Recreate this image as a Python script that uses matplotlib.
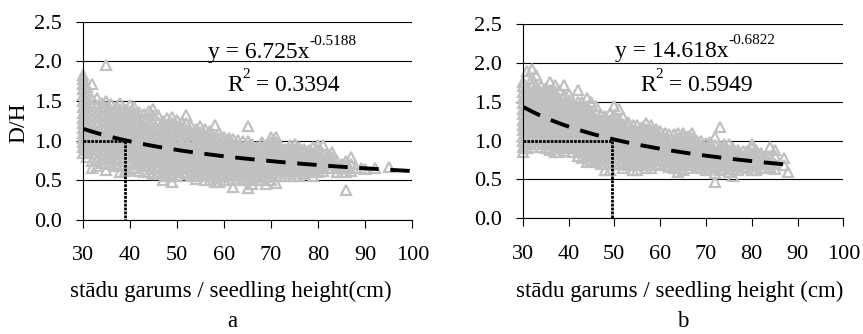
import matplotlib
matplotlib.use("Agg")
import numpy as np
import matplotlib.pyplot as plt

plt.rcParams['font.family'] = ['Liberation Serif', 'DejaVu Serif']

# panel a: seedling height (cm) -> D/H values
heights_a = [30, 31, 32, 33, 34, 35, 36, 37, 38, 39, 40, 41, 42, 43, 44, 45, 46, 47, 48, 49,
             50, 51, 52, 53, 54, 55, 56, 57, 58, 59, 60, 61, 62, 63, 64, 65, 66, 67, 68, 69,
             70, 71, 72, 73, 74, 75, 76, 77, 78, 79, 80, 81, 82, 83, 84, 85, 86, 87, 88, 89,
             90, 92, 95]
dh_a = [
    [0.85, 0.92, 0.98, 1.04, 1.1, 1.16, 1.22, 1.28, 1.35, 1.42, 1.5, 1.58, 1.65, 1.72, 1.78, 1.83],
    [0.8, 0.88, 0.95, 1.02, 1.08, 1.15, 1.22, 1.3, 1.38, 1.46, 1.55, 1.62, 1.68],
    [0.66, 0.75, 0.84, 0.92, 1.0, 1.07, 1.14, 1.21, 1.28, 1.36, 1.44, 1.52, 1.72],
    [0.68, 0.76, 0.84, 0.91, 0.98, 1.05, 1.12, 1.2, 1.28, 1.36, 1.45, 1.54],
    [0.72, 0.8, 0.88, 0.95, 1.02, 1.09, 1.16, 1.24, 1.32, 1.4, 1.48],
    [0.63, 0.72, 0.8, 0.88, 0.95, 1.02, 1.1, 1.18, 1.26, 1.34, 1.42, 1.5, 1.95],
    [0.7, 0.78, 0.86, 0.93, 1.0, 1.07, 1.14, 1.22, 1.3, 1.38, 1.46],
    [0.68, 0.76, 0.84, 0.91, 0.98, 1.05, 1.12, 1.2, 1.28, 1.36, 1.43],
    [0.6, 0.7, 0.79, 0.87, 0.94, 1.01, 1.08, 1.16, 1.24, 1.32, 1.4, 1.48],
    [0.62, 0.71, 0.8, 0.88, 0.95, 1.02, 1.09, 1.16, 1.24, 1.32, 1.4],
    [0.63, 0.72, 0.8, 0.87, 0.94, 1.01, 1.08, 1.15, 1.22, 1.3, 1.38, 1.45],
    [0.65, 0.73, 0.8, 0.87, 0.94, 1.0, 1.07, 1.14, 1.21, 1.28, 1.35, 1.42],
    [0.62, 0.7, 0.78, 0.85, 0.92, 0.99, 1.06, 1.13, 1.2, 1.28, 1.36],
    [0.6, 0.68, 0.76, 0.83, 0.9, 0.97, 1.04, 1.11, 1.18, 1.26, 1.34],
    [0.6, 0.68, 0.75, 0.82, 0.89, 0.96, 1.03, 1.1, 1.17, 1.25, 1.38],
    [0.58, 0.66, 0.74, 0.81, 0.88, 0.95, 1.02, 1.09, 1.16, 1.24, 1.32, 1.4],
    [0.58, 0.66, 0.73, 0.8, 0.87, 0.94, 1.01, 1.08, 1.15, 1.23, 1.32],
    [0.5, 0.6, 0.68, 0.75, 0.82, 0.89, 0.96, 1.03, 1.1, 1.18, 1.25],
    [0.55, 0.63, 0.7, 0.77, 0.84, 0.91, 0.98, 1.05, 1.12, 1.2, 1.28],
    [0.48, 0.58, 0.66, 0.73, 0.8, 0.87, 0.94, 1.01, 1.08, 1.15, 1.22, 1.3],
    [0.55, 0.63, 0.7, 0.77, 0.84, 0.9, 0.97, 1.04, 1.11, 1.18, 1.26],
    [0.6, 0.67, 0.74, 0.81, 0.88, 0.95, 1.02, 1.09, 1.16, 1.24],
    [0.58, 0.65, 0.72, 0.79, 0.86, 0.93, 1.0, 1.07, 1.14, 1.22, 1.33],
    [0.55, 0.62, 0.69, 0.76, 0.83, 0.9, 0.97, 1.04, 1.11, 1.19],
    [0.52, 0.6, 0.67, 0.74, 0.81, 0.88, 0.95, 1.02, 1.09, 1.15],
    [0.55, 0.62, 0.69, 0.76, 0.83, 0.9, 0.97, 1.04, 1.11, 1.18],
    [0.5, 0.58, 0.65, 0.72, 0.79, 0.86, 0.93, 1.0, 1.07, 1.15],
    [0.5, 0.57, 0.64, 0.71, 0.78, 0.85, 0.92, 0.99, 1.06, 1.12],
    [0.48, 0.56, 0.63, 0.7, 0.77, 0.84, 0.91, 0.98, 1.05, 1.2],
    [0.48, 0.55, 0.62, 0.69, 0.76, 0.83, 0.9, 0.97, 1.04, 1.1],
    [0.5, 0.57, 0.64, 0.71, 0.78, 0.85, 0.92, 0.99, 1.05],
    [0.5, 0.57, 0.64, 0.71, 0.78, 0.85, 0.92, 0.98, 1.04],
    [0.42, 0.52, 0.6, 0.67, 0.74, 0.81, 0.88, 0.95, 1.02],
    [0.52, 0.59, 0.66, 0.73, 0.8, 0.87, 0.94, 1.01],
    [0.5, 0.57, 0.64, 0.71, 0.78, 0.85, 0.92, 0.99],
    [0.4, 0.5, 0.58, 0.65, 0.72, 0.79, 0.86, 0.93, 1.0, 1.18],
    [0.45, 0.53, 0.6, 0.67, 0.74, 0.81, 0.88, 0.96],
    [0.5, 0.57, 0.64, 0.71, 0.78, 0.85, 0.92],
    [0.5, 0.57, 0.64, 0.71, 0.78, 0.85, 0.92, 0.98],
    [0.45, 0.54, 0.61, 0.68, 0.75, 0.82, 0.89, 0.95],
    [0.5, 0.57, 0.64, 0.71, 0.78, 0.85, 0.92, 0.98, 1.05],
    [0.47, 0.56, 0.63, 0.7, 0.77, 0.84, 0.91, 0.98, 1.05],
    [0.55, 0.62, 0.69, 0.76, 0.83, 0.9, 0.95],
    [0.55, 0.62, 0.69, 0.76, 0.83, 0.9],
    [0.55, 0.62, 0.69, 0.76, 0.83, 0.9, 0.95],
    [0.55, 0.62, 0.69, 0.76, 0.83, 0.9, 0.96],
    [0.56, 0.63, 0.7, 0.77, 0.84, 0.92],
    [0.58, 0.65, 0.72, 0.79, 0.86, 0.9],
    [0.6, 0.67, 0.74, 0.81, 0.88],
    [0.55, 0.63, 0.7, 0.77, 0.84, 0.92],
    [0.6, 0.67, 0.74, 0.81, 0.88, 0.95],
    [0.62, 0.69, 0.76, 0.83, 0.95],
    [0.65, 0.72, 0.79, 0.82],
    [0.66, 0.73, 0.8, 0.86],
    [0.6, 0.67, 0.74],
    [0.6, 0.66, 0.7],
    [0.38, 0.6, 0.68, 0.75],
    [0.62, 0.7, 0.8],
    [0.65], [0.65], [0.64], [0.65], [0.67],
]

# panel b
heights_b = [30, 31, 32, 33, 34, 35, 36, 37, 38, 39, 40, 41, 42, 43, 44, 45, 46, 47, 48, 49,
             50, 51, 52, 53, 54, 55, 56, 57, 58, 59, 60, 61, 62, 63, 64, 65, 66, 67, 68, 69,
             70, 71, 72, 73, 74, 75, 76, 77, 78, 79, 80, 81, 82, 83, 84, 85, 87, 88]
dh_b = [
    [0.85, 0.92, 0.99, 1.06, 1.13, 1.2, 1.27, 1.34, 1.41, 1.48, 1.55, 1.62, 1.7, 1.76],
    [0.9, 0.97, 1.04, 1.11, 1.18, 1.25, 1.32, 1.39, 1.46, 1.53, 1.6, 1.68, 1.9],
    [0.92, 0.99, 1.06, 1.13, 1.2, 1.27, 1.34, 1.41, 1.48, 1.55, 1.62, 1.7, 1.8, 1.92],
    [0.95, 1.02, 1.09, 1.16, 1.23, 1.3, 1.37, 1.44, 1.51, 1.58, 1.65, 1.72, 1.85],
    [0.92, 0.99, 1.06, 1.13, 1.2, 1.27, 1.34, 1.41, 1.48, 1.55, 1.62, 1.7],
    [0.9, 0.97, 1.04, 1.11, 1.18, 1.25, 1.32, 1.39, 1.46, 1.53, 1.6, 1.68],
    [0.88, 0.95, 1.02, 1.09, 1.16, 1.23, 1.3, 1.37, 1.44, 1.51, 1.58, 1.65, 1.75],
    [0.85, 0.92, 0.99, 1.06, 1.13, 1.2, 1.27, 1.34, 1.41, 1.48, 1.55, 1.62, 1.72],
    [0.85, 0.92, 0.99, 1.06, 1.13, 1.2, 1.27, 1.34, 1.41, 1.48, 1.55, 1.65],
    [0.86, 0.93, 1.0, 1.07, 1.14, 1.21, 1.28, 1.35, 1.42, 1.5, 1.58, 1.72],
    [0.9, 0.97, 1.04, 1.11, 1.18, 1.25, 1.32, 1.39, 1.46, 1.52, 1.6],
    [0.85, 0.92, 0.99, 1.06, 1.13, 1.2, 1.27, 1.34, 1.41, 1.48],
    [0.8, 0.87, 0.94, 1.01, 1.08, 1.15, 1.22, 1.29, 1.36, 1.43, 1.5, 1.65],
    [0.78, 0.85, 0.92, 0.99, 1.06, 1.13, 1.2, 1.27, 1.34, 1.41, 1.5],
    [0.72, 0.8, 0.87, 0.94, 1.01, 1.08, 1.15, 1.22, 1.29, 1.36, 1.45, 1.55],
    [0.75, 0.82, 0.89, 0.96, 1.03, 1.1, 1.17, 1.24, 1.31, 1.38, 1.5],
    [0.72, 0.79, 0.86, 0.93, 1.0, 1.07, 1.14, 1.21, 1.28, 1.35, 1.45],
    [0.7, 0.77, 0.84, 0.91, 0.98, 1.05, 1.12, 1.19, 1.26, 1.33],
    [0.62, 0.7, 0.77, 0.84, 0.91, 0.98, 1.05, 1.12, 1.19, 1.26, 1.32],
    [0.62, 0.7, 0.77, 0.84, 0.91, 0.98, 1.05, 1.12, 1.19, 1.26, 1.35],
    [0.7, 0.77, 0.84, 0.91, 0.98, 1.05, 1.12, 1.19, 1.26, 1.33, 1.45],
    [0.7, 0.77, 0.84, 0.91, 0.98, 1.05, 1.12, 1.19, 1.26, 1.4],
    [0.65, 0.72, 0.79, 0.86, 0.93, 1.0, 1.07, 1.14, 1.21, 1.3],
    [0.68, 0.75, 0.82, 0.89, 0.96, 1.03, 1.1, 1.17, 1.24],
    [0.62, 0.7, 0.77, 0.84, 0.91, 0.98, 1.05, 1.12, 1.2],
    [0.62, 0.7, 0.77, 0.84, 0.91, 0.98, 1.05, 1.12, 1.2],
    [0.68, 0.75, 0.82, 0.89, 0.96, 1.03, 1.1, 1.18],
    [0.65, 0.72, 0.79, 0.86, 0.93, 1.0, 1.07, 1.15, 1.22],
    [0.65, 0.72, 0.79, 0.86, 0.93, 1.0, 1.07, 1.14, 1.2],
    [0.68, 0.75, 0.82, 0.89, 0.96, 1.03, 1.1, 1.15],
    [0.7, 0.77, 0.84, 0.91, 0.98, 1.05, 1.12],
    [0.68, 0.75, 0.82, 0.89, 0.96, 1.03, 1.1],
    [0.66, 0.73, 0.8, 0.87, 0.94, 1.01, 1.08],
    [0.65, 0.72, 0.79, 0.86, 0.93, 1.0, 1.08],
    [0.6, 0.68, 0.75, 0.82, 0.89, 0.96, 1.03, 1.1],
    [0.62, 0.69, 0.76, 0.83, 0.9, 0.97, 1.04, 1.1],
    [0.65, 0.72, 0.79, 0.86, 0.93, 1.0, 1.06],
    [0.68, 0.75, 0.82, 0.89, 0.96, 1.03, 1.1],
    [0.66, 0.73, 0.8, 0.87, 0.94, 1.0],
    [0.65, 0.72, 0.79, 0.86, 0.93, 0.99],
    [0.62, 0.69, 0.76, 0.83, 0.9, 0.97],
    [0.65, 0.72, 0.79, 0.86, 0.93, 0.98],
    [0.47, 0.58, 0.66, 0.73, 0.8, 0.87, 0.94, 1.05],
    [0.62, 0.69, 0.76, 0.83, 0.9, 1.17],
    [0.63, 0.7, 0.77, 0.84, 0.91, 0.96],
    [0.6, 0.67, 0.74, 0.81, 0.88, 0.95],
    [0.55, 0.63, 0.7, 0.77, 0.84, 0.9],
    [0.62, 0.69, 0.76, 0.83, 0.88],
    [0.66, 0.73, 0.8, 0.86],
    [0.65, 0.72, 0.79, 0.86],
    [0.62, 0.69, 0.76, 0.83, 0.9, 0.96],
    [0.62, 0.69, 0.76, 0.83, 0.88],
    [0.65, 0.72, 0.79, 0.84],
    [0.65, 0.72, 0.79],
    [0.66, 0.73, 0.8, 0.92],
    [0.63, 0.7, 0.8, 0.88],
    [0.68, 0.77],
    [0.6],
]

# fitted power trends (coefficients as printed on the chart)
fit_a = (6.725, -0.5188)
fit_b = (14.618, -0.6822)
trend_end_a = 100
trend_end_b = 88
# height where D/H = 1 (dotted guide)
cross_a = 39
cross_b = 49.5

eq_a = ['y = 6.725x', '-0.5188']
r2_a = ['R', '2', ' = 0.3394']
eq_b = ['y = 14.618x', '-0.6822']
r2_b = ['R', '2', ' = 0.5949']
xlabel_a = 'stādu garums / seedling height(cm)'
xlabel_b = 'stādu garums / seedling height (cm)'

W, H = 863, 334
fig = plt.figure(figsize=(W / 100, H / 100), dpi=100)


def px(x, y):
    return x / W, 1 - y / H


def panel(rect, heights, dh, fit, trend_end, cross):
    ax = fig.add_axes(rect)
    xs = [h for h, vals in zip(heights, dh) for _ in vals]
    ys = [v for vals in dh for v in vals]
    ax.plot(xs, ys, linestyle='none', marker='^', markersize=7,
            markerfacecolor='none', markeredgecolor='#c0c0c0', markeredgewidth=1.6,
            zorder=2, clip_on=False)
    xt = np.linspace(30, trend_end, 200)
    ax.plot(xt, fit[0] * xt ** fit[1], color='black', lw=2.8,
            dashes=(5, 3), zorder=4)
    ax.plot([30, cross], [1, 1], color='black', lw=2, linestyle=(0, (1, 0.4)), zorder=5)
    ax.plot([cross, cross], [1, 0], color='black', lw=2, linestyle=(0, (1, 0.4)), zorder=5)
    ax.set_xlim(30, 100)
    ax.set_ylim(0, 2.5)
    ax.set_xticks(np.arange(30, 101, 10))
    ax.set_yticks(np.arange(0, 2.51, 0.5))
    ax.set_yticklabels(['%.1f' % v for v in np.arange(0, 2.51, 0.5)])
    ax.yaxis.grid(True, color='black', lw=0.8)
    ax.set_axisbelow(True)
    for s in ['top', 'right']:
        ax.spines[s].set_visible(False)
    for s in ['left', 'bottom']:
        ax.spines[s].set_linewidth(0.8)
    ax.tick_params(axis='x', direction='out', length=6, width=0.8, labelsize=16, pad=13)
    ax.tick_params(axis='y', direction='out', length=5, width=0.8, labelsize=16, pad=10)
    return ax


def rich_text(x, y, pieces, size=17, sup_size=11, raise_px=13):
    # pieces alternate: normal, superscript, normal ...
    renderer = fig.canvas.get_renderer()
    cur = x
    for i, s in enumerate(pieces):
        sup = (i % 2 == 1)
        t = fig.text(*px(cur, y - (raise_px if sup else 0)), s, ha='left', va='baseline',
                     fontsize=sup_size if sup else size)
        bb = t.get_window_extent(renderer)
        cur += bb.width


ax_a = panel([82.7 / W, 1 - 220 / H, (412.3 - 82.7) / W, (220 - 21.7) / H],
             heights_a, dh_a, fit_a, trend_end_a, cross_a)
ax_b = panel([522.7 / W, 1 - 218.3 / H, (843.3 - 522.7) / W, (218.3 - 24) / H],
             heights_b, dh_b, fit_b, trend_end_b, cross_b)

rich_text(208, 58, eq_a)
rich_text(227, 91, r2_a)
rich_text(615, 57, eq_b)
rich_text(640, 91, r2_b)

fig.text(*px(19, 123), 'D/H', rotation=90, ha='center', va='center', fontsize=17)
fig.text(*px(231, 297), xlabel_a, ha='center', va='baseline', fontsize=16.5)
fig.text(*px(680, 297), xlabel_b, ha='center', va='baseline', fontsize=16.5)
fig.text(*px(232, 327), 'a', ha='center', va='baseline', fontsize=16.5)
fig.text(*px(683, 327), 'b', ha='center', va='baseline', fontsize=16.5)

fig.savefig('out.png', dpi=100)
